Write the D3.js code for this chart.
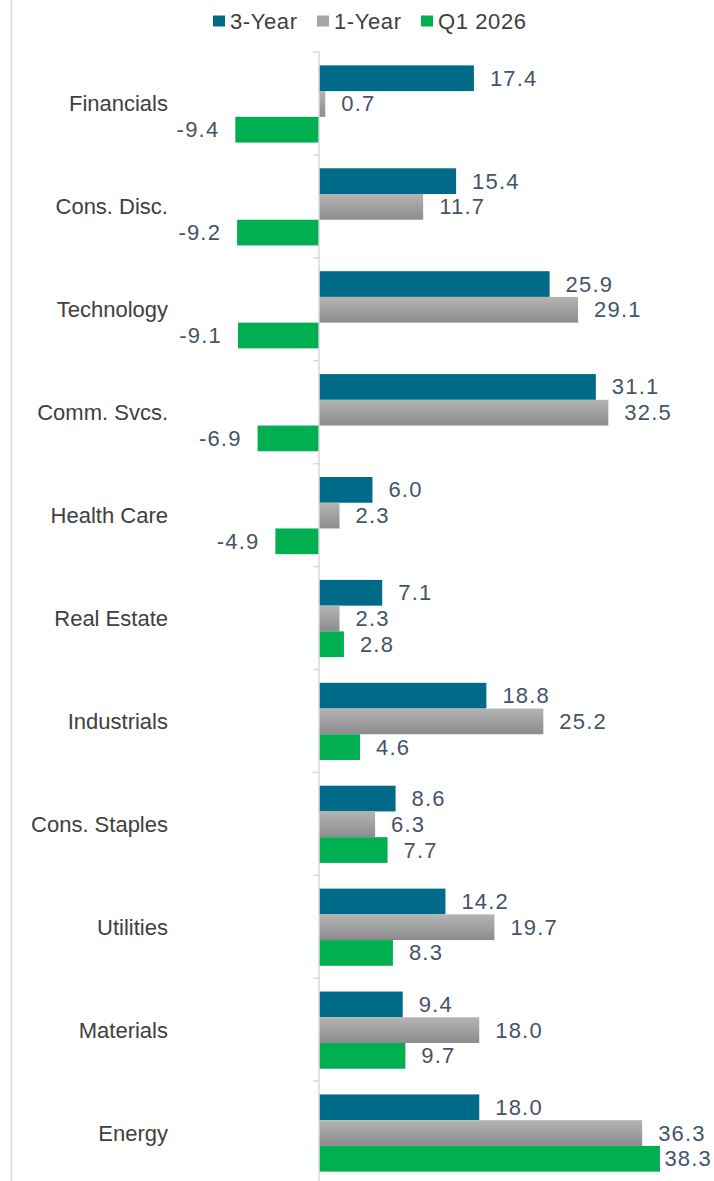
<!DOCTYPE html>
<html>
<head>
<meta charset="utf-8">
<script src="https://cdn.jsdelivr.net/npm/d3@7"></script>
<style>
  html, body { margin: 0; padding: 0; background: #fff; }
  svg { display: block; }
</style>
</head>
<body>
<div id="vis-display"></div>
<script>
// Sector returns: 3-Year, 1-Year and Q1 2026, horizontal grouped bars.

const SECTORS  = ["Financials", "Cons. Disc.", "Technology", "Comm. Svcs.", "Health Care",
                  "Real Estate", "Industrials", "Cons. Staples", "Utilities", "Materials", "Energy"];
const SERIES   = ["3-Year", "1-Year", "Q1 2026"];
const THREE_YR = [17.4, 15.4, 25.9, 31.1, 6.0, 7.1, 18.8, 8.6, 14.2, 9.4, 18.0];
const ONE_YR   = [0.7, 11.7, 29.1, 32.5, 2.3, 2.3, 25.2, 6.3, 19.7, 18.0, 36.3];
const Q1_2026  = [-9.4, -9.2, -9.1, -6.9, -4.9, 2.8, 4.6, 7.7, 8.3, 9.7, 38.3];

const W = 714, H = 1181;
const FONT = "'Liberation Sans', Arial, sans-serif";

const svg = d3.select("#vis-display").append("svg")
  .attr("width", W)
  .attr("height", H)
  .style("font-family", FONT);

// gradient for the grey series
const defs = svg.append("defs");
const grad = defs.append("linearGradient")
  .attr("id", "greyGrad").attr("x1", 0).attr("y1", 0).attr("x2", 0).attr("y2", 1);
grad.append("stop").attr("offset", "0%").attr("stop-color", "#b4b4b4");
grad.append("stop").attr("offset", "100%").attr("stop-color", "#8c8c8c");

const COLOR = { "3-Year": "#006a89", "1-Year": "url(#greyGrad)", "Q1 2026": "#00b050" };
const SWATCH = { "3-Year": "#006a89", "1-Year": "#a6a6a6", "Q1 2026": "#00b050" };

const fmt = v => d3.format(".1f")(v).replace("\u2212", "-");

// ── Scales ────────────────────────────────────────────────────────────────

const x = d3.scaleLinear().domain([-10, 40]).range([230, 675.1]);

const y = d3.scaleBand()
  .domain(SECTORS)
  .range([52, 1185])
  .paddingInner(0.25)
  .paddingOuter(0.13);

const ySub = d3.scaleBand()
  .domain(SERIES)
  .range([0, y.bandwidth()]);

const rows = SECTORS.map((s, i) => ({
  sector: s,
  values: [
    { key: "3-Year",  v: THREE_YR[i] },
    { key: "1-Year",  v: ONE_YR[i] },
    { key: "Q1 2026", v: Q1_2026[i] },
  ],
}));

// ── Frame: left border line ───────────────────────────────────────────────

svg.append("line")
  .attr("x1", 11.5).attr("x2", 11.5)
  .attr("y1", 0).attr("y2", H)
  .attr("stroke", "#d9d9d9").attr("stroke-width", 1.5);

// ── Bars ──────────────────────────────────────────────────────────────────

const groups = svg.append("g")
  .selectAll("g")
  .data(rows)
  .join("g")
    .attr("transform", d => `translate(0,${y(d.sector)})`);

groups.selectAll("rect")
  .data(d => d.values)
  .join("rect")
    .attr("x", d => x(Math.min(0, d.v)))
    .attr("y", d => ySub(d.key))
    .attr("width", d => Math.abs(x(d.v) - x(0)))
    .attr("height", ySub.bandwidth())
    .attr("fill", d => COLOR[d.key]);

// value labels — outside the bar end, pulled back in at the right edge
const RIGHT_LIMIT = 712;
groups.selectAll("text.val")
  .data(d => d.values)
  .join("text")
    .attr("class", "val")
    .attr("y", d => ySub(d.key) + ySub.bandwidth() / 2)
    .attr("dominant-baseline", "central")
    .attr("fill", "#44546a")
    .style("font-size", "22px")
    .style("letter-spacing", "1.2px")
    .text(d => fmt(d.v))
    .each(function(d) {
      const t = d3.select(this);
      if (d.v < 0) {
        t.attr("x", x(d.v) - 16).attr("text-anchor", "end");
      } else {
        const tw = this.getComputedTextLength();
        let px = x(d.v) + 16;
        if (px + tw > RIGHT_LIMIT) px = Math.max(RIGHT_LIMIT - tw, x(d.v) + 3);
        t.attr("x", px).attr("text-anchor", "start");
      }
    });

// ── Axis (zero line with ticks between groups) ────────────────────────────

const x0 = x(0);
const axisG = svg.append("g");
axisG.append("line")
  .attr("x1", x0).attr("x2", x0)
  .attr("y1", y.range()[0]).attr("y2", H)
  .attr("stroke", "#d9d9d9").attr("stroke-width", 1.5);

const boundaries = d3.range(SECTORS.length + 1).map(i => y.range()[0] + i * y.step());
axisG.selectAll("line.tick")
  .data(boundaries)
  .join("line")
    .attr("class", "tick")
    .attr("x1", x0 - 6).attr("x2", x0)
    .attr("y1", d => d).attr("y2", d => d)
    .attr("stroke", "#d9d9d9").attr("stroke-width", 1.5);

// category labels
svg.append("g")
  .selectAll("text")
  .data(SECTORS)
  .join("text")
    .attr("x", 168)
    .attr("y", d => y(d) + y.bandwidth() / 2)
    .attr("text-anchor", "end")
    .attr("dominant-baseline", "central")
    .attr("fill", "#404040")
    .style("font-size", "22px")
    .text(d => d);

// ── Legend ────────────────────────────────────────────────────────────────

const legendX = [213, 317, 421];
const legend = svg.append("g")
  .selectAll("g")
  .data(SERIES)
  .join("g")
    .attr("transform", (d, i) => `translate(${legendX[i]},21)`);

legend.append("rect")
  .attr("x", 0).attr("y", -5.5)
  .attr("width", 12).attr("height", 11)
  .attr("fill", d => SWATCH[d]);

legend.append("text")
  .attr("x", 17)
  .attr("y", 0)
  .attr("dominant-baseline", "central")
  .attr("fill", "#404040")
  .style("font-size", "22px")
  .style("letter-spacing", "0.6px")
  .text(d => d);
</script>
</body>
</html>
